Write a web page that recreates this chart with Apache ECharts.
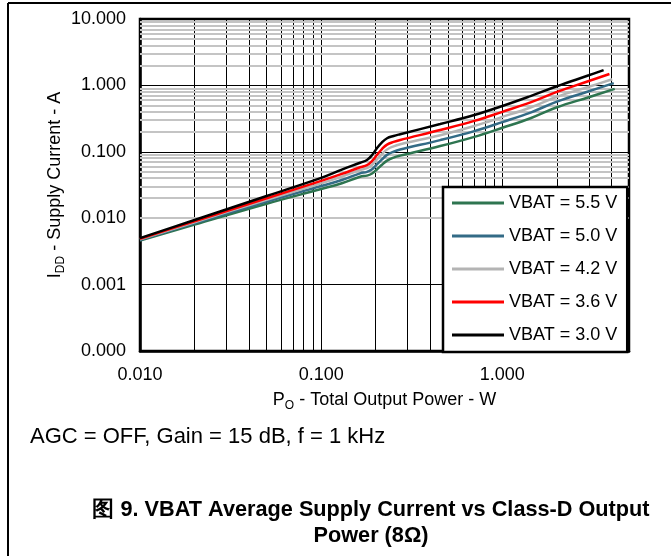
<!DOCTYPE html>
<html>
<head>
<meta charset="utf-8">
<script src="https://cdn.jsdelivr.net/npm/echarts@6/dist/echarts.min.js"></script>
<style>
html, body { margin: 0; padding: 0; background: #fff; }
#chart { width: 671px; height: 556px; }
</style>
</head>
<body>
<div id="chart"></div>
<script>
// output power (W), shared by all curves; each curve has its own last point
var power = [0.01, 0.02, 0.05, 0.1, 0.13, 0.164, 0.179, 0.191, 0.203, 0.2165, 0.231, 0.251, 0.273, 0.454, 0.7, 1.0, 1.43, 2.0, 3.0];
var seriesNames = ['VBAT = 5.5 V', 'VBAT = 5.0 V', 'VBAT = 4.2 V', 'VBAT = 3.6 V', 'VBAT = 3.0 V'];
var lastPower = [4.17, 4.12, 4.04, 3.90, 3.62];
// supply current (A)
var vbat55 = [0.0046, 0.0080, 0.0165, 0.0275, 0.0336, 0.0422, 0.0438, 0.0472, 0.0541, 0.0638, 0.0736, 0.0818, 0.0875, 0.122, 0.168, 0.23, 0.32, 0.468, 0.664, 0.885];
var vbat50 = [0.0047, 0.0084, 0.0178, 0.0305, 0.0376, 0.0474, 0.0499, 0.0546, 0.0646, 0.0767, 0.0899, 0.1002, 0.108, 0.150, 0.205, 0.28, 0.39, 0.57, 0.816, 1.08];
var vbat42 = [0.0048, 0.0087, 0.0190, 0.0335, 0.0422, 0.0532, 0.0566, 0.0637, 0.0767, 0.0927, 0.1086, 0.121, 0.130, 0.178, 0.245, 0.335, 0.465, 0.675, 0.955, 1.235];
var vbat36 = [0.0049, 0.0090, 0.0200, 0.0365, 0.0464, 0.0585, 0.0631, 0.0727, 0.0895, 0.110, 0.1285, 0.141, 0.151, 0.213, 0.292, 0.40, 0.555, 0.80, 1.166, 1.486];
var vbat30 = [0.0050, 0.0094, 0.0216, 0.0405, 0.054, 0.0685, 0.0752, 0.0895, 0.113, 0.139, 0.160, 0.173, 0.184, 0.262, 0.358, 0.489, 0.69, 0.97, 1.42, 1.70];
var colors = ['#2e7550', '#336b86', '#b4b4b4', '#ff0000', '#000000'];

var xMin = 0.01, xMax = 5, yMin = 0.0001, yMax = 10;
var font = 'Liberation Sans, Arial, sans-serif';

function minorValues(from, max) {
	var out = [];
	for (var d = from; d < max; d *= 10) {
		for (var k = 2; k <= 9; k++) {
			var v = +(d * k).toPrecision(3);
			if (v < max) out.push(v);
		}
	}
	return out;
}

function pairs(ys, idx) {
	var out = [];
	for (var i = 0; i < power.length; i++) {
		out.push([power[i], ys[i]]);
	}
	out.push([lastPower[idx], ys[ys.length - 1]]);
	return out;
}

var gridLines = [];
minorValues(xMin, xMax).forEach(function(v) {
	gridLines.push({ xAxis: v, lineStyle: { color: '#000', width: 1, type: 'solid' } });
});
minorValues(yMin, yMax).forEach(function(v) {
	gridLines.push({ yAxis: v, lineStyle: { color: '#c4c4c4', width: 2, type: 'solid' } });
});

var curves = [vbat55, vbat50, vbat42, vbat36, vbat30];
var series = [{
	name: 'grid',
	type: 'line',
	data: [],
	z: 1,
	silent: true,
	markLine: {
		silent: true,
		z: 1,
		symbol: ['none', 'none'],
		label: { show: false },
		emphasis: { disabled: true },
		animation: false,
		data: gridLines
	}
}];
curves.forEach(function(c, i) {
	series.push({
		name: seriesNames[i],
		type: 'line',
		data: pairs(c, i),
		showSymbol: false,
		symbol: 'none',
		smooth: 0.4,
		z: 6,
		lineStyle: { color: colors[i], width: 2.5 },
		itemStyle: { color: colors[i] }
	});
});

var option = {
	animation: false,
	backgroundColor: '#fff',
	grid: {
		left: 140, top: 19, width: 489, height: 332,
		show: true, borderColor: '#000', borderWidth: 2.5, backgroundColor: '#fff'
	},
	legend: {
		data: seriesNames,
		orient: 'vertical',
		left: 443, top: 187,
		padding: [7, 10, 8, 9],
		itemWidth: 52, itemHeight: 3, itemGap: 15, icon: 'rect',
		backgroundColor: '#fff', borderColor: '#000', borderWidth: 2.5,
		textStyle: { fontFamily: font, fontSize: 18, color: '#000', lineHeight: 18 },
		z: 10
	},
	xAxis: {
		type: 'log', min: xMin, max: xMax, logBase: 10,
		name: '{a|P}{b|O}{a| - Total Output Power - W}',
		nameLocation: 'middle', nameGap: 40, nameMoveOverlap: false,
		nameTextStyle: {
			rich: {
				a: { fontFamily: font, fontSize: 18, color: '#000', lineHeight: 18, verticalAlign: 'top' },
				b: { fontFamily: font, fontSize: 12, color: '#000', lineHeight: 12, padding: [9, 0, 0, 0], verticalAlign: 'top' }
			}
		},
		axisLine: { show: true, lineStyle: { color: '#000', width: 2.5 } },
		axisTick: { show: false },
		axisLabel: {
			fontFamily: font, fontSize: 18, color: '#000', margin: 15, showMaxLabel: false,
			formatter: function(v) { return v.toFixed(3); }
		},
		splitLine: { show: true, lineStyle: { color: '#000', width: 1 } }
	},
	yAxis: {
		type: 'log', min: yMin, max: yMax, logBase: 10,
		name: '{a|I}{b|DD}{a| - Supply Current - A}',
		nameLocation: 'middle', nameGap: 76, nameMoveOverlap: false,
		nameTextStyle: {
			rich: {
				a: { fontFamily: font, fontSize: 18, color: '#000', lineHeight: 18, verticalAlign: 'top' },
				b: { fontFamily: font, fontSize: 12, color: '#000', lineHeight: 12, padding: [9, 0, 0, 0], verticalAlign: 'top' }
			}
		},
		axisLine: { show: true, lineStyle: { color: '#000', width: 2.5 } },
		axisTick: { show: false },
		axisLabel: {
			fontFamily: font, fontSize: 18, color: '#000', margin: 14,
			formatter: function(v) { return v.toFixed(3); }
		},
		splitLine: { show: true, lineStyle: { color: '#000', width: 1 } }
	},
	graphic: [
		{ type: 'line', shape: { x1: 8, y1: 3, x2: 671, y2: 3 }, style: { stroke: '#000', lineWidth: 2 } },
		{ type: 'line', shape: { x1: 8, y1: 3, x2: 8, y2: 556 }, style: { stroke: '#000', lineWidth: 2 } },
		{
			type: 'text', left: 30, top: 426,
			style: { text: 'AGC = OFF, Gain = 15 dB, f = 1 kHz', font: '22px ' + font, fill: '#000' }
		},
		{
			type: 'text', x: 371, y: 497,
			style: {
				text: '图 9. VBAT Average Supply Current vs Class-D Output\nPower (8Ω)',
				font: 'bold 21.7px ' + font, fill: '#000', align: 'center', lineHeight: 26
			}
		}
	],
	series: series
};

var chart = echarts.init(document.getElementById('chart'));
chart.setOption(option);
</script>
</body>
</html>
